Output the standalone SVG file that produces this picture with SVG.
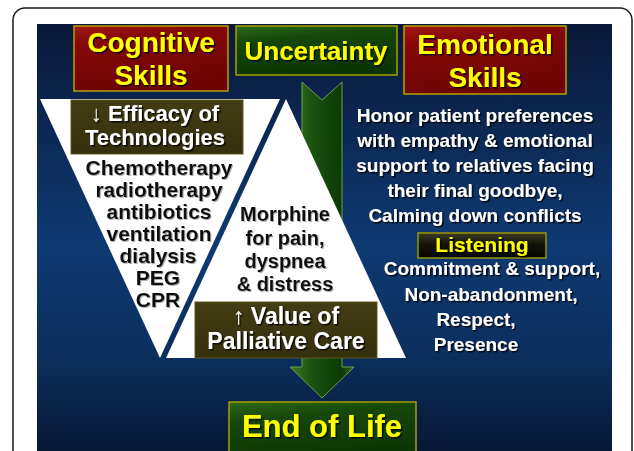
<svg xmlns="http://www.w3.org/2000/svg" width="634" height="451" viewBox="0 0 634 451">
  <defs>
    <linearGradient id="panelGrad" x1="0" y1="0" x2="0" y2="1">
      <stop offset="0" stop-color="#0a1838"/>
      <stop offset="0.5" stop-color="#0e3a72"/>
      <stop offset="0.75" stop-color="#0c2f5e"/>
      <stop offset="1" stop-color="#071530"/>
    </linearGradient>
    <linearGradient id="redGrad" x1="0" y1="0" x2="0.3" y2="1">
      <stop offset="0" stop-color="#a51818"/>
      <stop offset="0.25" stop-color="#860808"/>
      <stop offset="1" stop-color="#6e0404"/>
    </linearGradient>
    <linearGradient id="greenGrad" x1="0" y1="0" x2="0.3" y2="1">
      <stop offset="0" stop-color="#2e6a1a"/>
      <stop offset="0.3" stop-color="#17480a"/>
      <stop offset="1" stop-color="#0c3405"/>
    </linearGradient>
    <linearGradient id="oliveGrad" x1="0" y1="0" x2="0" y2="1">
      <stop offset="0" stop-color="#433d14"/>
      <stop offset="1" stop-color="#35300c"/>
    </linearGradient>
    <linearGradient id="darkGrad" x1="0" y1="0" x2="0" y2="1">
      <stop offset="0" stop-color="#3a3a22"/>
      <stop offset="0.45" stop-color="#141408"/>
      <stop offset="1" stop-color="#050502"/>
    </linearGradient>
    <linearGradient id="arrowGrad" x1="0" y1="0" x2="1" y2="0">
      <stop offset="0" stop-color="#3c7a26"/>
      <stop offset="0.35" stop-color="#1a5210"/>
      <stop offset="0.8" stop-color="#0c3a06"/>
      <stop offset="1" stop-color="#2a6418"/>
    </linearGradient>
    <filter id="shadow" x="-10%" y="-20%" width="130%" height="150%">
      <feDropShadow dx="1.5" dy="1.5" stdDeviation="0.6" flood-color="#000" flood-opacity="0.85"/>
    </filter>
    <filter id="softShadow" x="-10%" y="-20%" width="130%" height="150%">
      <feDropShadow dx="1" dy="1" stdDeviation="0.6" flood-color="#777" flood-opacity="0.6"/>
    </filter>
  </defs>
  <style>
    text { font-family: "Liberation Sans", Arial, sans-serif; font-weight: bold; text-anchor: middle; }
    .yellow { fill: #ffff00; filter: url(#shadow); }
    .white { fill: #ffffff; filter: url(#shadow); }
    .black { fill: #111111; filter: url(#softShadow); }
    .boxRed { fill: url(#redGrad); stroke: #b5a300; stroke-width: 1.5; }
    .boxGreen { fill: url(#greenGrad); stroke: #a8a000; stroke-width: 1.5; }
    .boxOlive { fill: url(#oliveGrad); stroke: #5e5820; stroke-width: 1; }
    .boxDark { fill: url(#darkGrad); stroke: #9a9400; stroke-width: 1.5; }
    .tri { fill: #ffffff; }
  </style>

  <!-- frame and background panel -->
  <rect x="13" y="8" width="619" height="470" rx="12" fill="#ffffff" stroke="#1a1a1a" stroke-width="1.5"/>
  <rect x="37" y="24" width="575" height="440" fill="url(#panelGrad)"/>

  <!-- connectors -->
  <g id="connectors">
    <path d="M302,82 L322,100 L342,82 L342,367 L354,367 L322,398 L290,367 L302,367 Z" fill="url(#arrowGrad)" stroke="#6aa04a" stroke-width="1"/>
  </g>

  <!-- inverted triangle: technologies -->
  <g id="technologies">
    <polygon class="tri" points="40,99 280,99 160,358"/>
    <rect class="boxOlive" x="71" y="100" width="172" height="54"/>
    <text class="white" x="155" y="121" font-size="22">↓ Efficacy of</text>
    <text class="white" x="155" y="145" font-size="22">Technologies</text>
    <text class="black" x="159" y="175" font-size="21">Chemotherapy</text>
    <text class="black" x="159" y="197" font-size="21">radiotherapy</text>
    <text class="black" x="159" y="219" font-size="21">antibiotics</text>
    <text class="black" x="159" y="241" font-size="21">ventilation</text>
    <text class="black" x="158" y="263" font-size="21">dialysis</text>
    <text class="black" x="158" y="285" font-size="21">PEG</text>
    <text class="black" x="158" y="307" font-size="21">CPR</text>
  </g>

  <!-- upright triangle: palliative care -->
  <g id="palliative">
    <polygon class="tri" points="286,99 406,358 166,358"/>
    <text class="black" x="285" y="221" font-size="20">Morphine</text>
    <text class="black" x="285" y="245" font-size="20">for pain,</text>
    <text class="black" x="285" y="268" font-size="20">dyspnea</text>
    <text class="black" x="285" y="291" font-size="20">&amp; distress</text>
    <rect class="boxOlive" x="195" y="302" width="182" height="56"/>
    <text class="white" x="286" y="324" font-size="23">↑ Value of</text>
    <text class="white" x="286" y="349" font-size="23">Palliative Care</text>
  </g>

  <!-- header boxes -->
  <g id="cognitive">
    <rect class="boxRed" x="74" y="26" width="154" height="65"/>
    <text class="yellow" x="151" y="52" font-size="28">Cognitive</text>
    <text class="yellow" x="151" y="85" font-size="28">Skills</text>
  </g>
  <g id="uncertainty">
    <rect class="boxGreen" x="236" y="26" width="161" height="49"/>
    <text class="yellow" x="316" y="60" font-size="26">Uncertainty</text>
  </g>
  <g id="emotional">
    <rect class="boxRed" x="404" y="26" width="162" height="68"/>
    <text class="yellow" x="485" y="54" font-size="28">Emotional</text>
    <text class="yellow" x="485" y="87" font-size="28">Skills</text>
  </g>

  <!-- emotional skills description -->
  <g id="emotional-text">
    <text class="white" x="475" y="122" font-size="19">Honor patient preferences</text>
    <text class="white" x="475" y="147" font-size="19">with empathy &amp; emotional</text>
    <text class="white" x="475" y="172" font-size="19">support to relatives facing</text>
    <text class="white" x="475" y="197" font-size="19">their final goodbye,</text>
    <text class="white" x="475" y="222" font-size="19">Calming down conflicts</text>
  </g>

  <!-- listening -->
  <g id="listening">
    <rect class="boxDark" x="418" y="233" width="128" height="25"/>
    <text class="yellow" x="482" y="252" font-size="21">Listening</text>
    <text class="white" x="492" y="275" font-size="19">Commitment &amp; support,</text>
    <text class="white" x="491" y="301" font-size="19">Non-abandonment,</text>
    <text class="white" x="476" y="326" font-size="19">Respect,</text>
    <text class="white" x="476" y="351" font-size="19">Presence</text>
  </g>

  <!-- end of life -->
  <g id="end-of-life">
    <rect class="boxGreen" x="229" y="402" width="187" height="60"/>
    <text class="yellow" x="322" y="437" font-size="31">End of Life</text>
  </g>
</svg>
